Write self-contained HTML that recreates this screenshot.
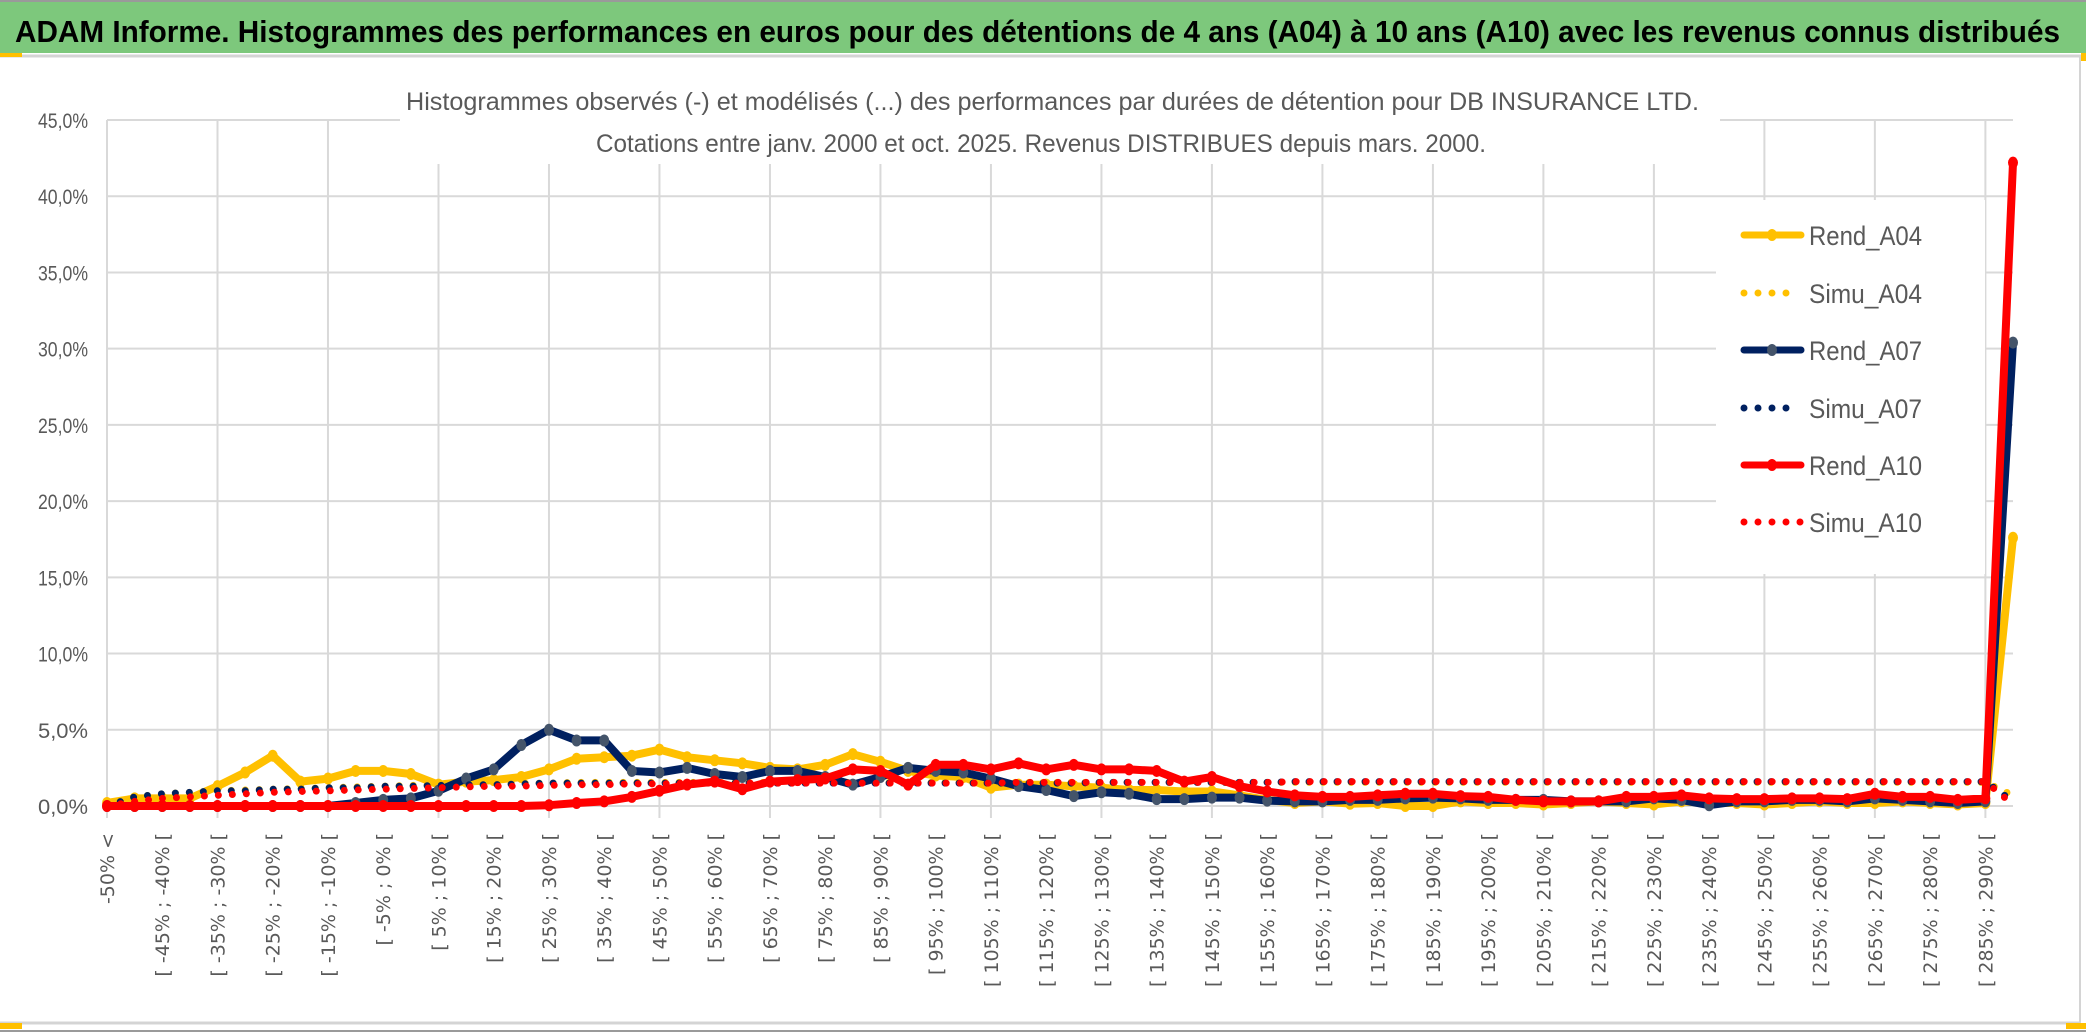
<!DOCTYPE html>
<html><head><meta charset="utf-8"><style>
html,body{margin:0;padding:0;background:#fff;}
svg{display:block;font-family:"Liberation Sans",sans-serif;}
</style></head><body>
<svg id="chart" width="2086" height="1033" viewBox="0 0 2086 1033" xmlns="http://www.w3.org/2000/svg">
<rect x="0" y="0" width="2086" height="1033" fill="#fff"/>
<rect x="0" y="2" width="2086" height="51" fill="#7dc87c"/>
<line x1="0" y1="1" x2="2086" y2="1" stroke="#9a9a9a" stroke-width="2"/>
<line x1="0" y1="56" x2="2086" y2="56" stroke="#d4d4d4" stroke-width="3"/>
<line x1="2080" y1="56" x2="2080" y2="1024" stroke="#d4d4d4" stroke-width="2"/>
<line x1="0" y1="1023" x2="2080" y2="1023" stroke="#d4d4d4" stroke-width="3"/>
<line x1="0" y1="1031" x2="2086" y2="1031" stroke="#9a9a9a" stroke-width="2"/>
<rect x="0" y="53" width="22" height="4" fill="#ffc000"/>
<rect x="0" y="1023" width="22" height="6" fill="#ffc000"/>
<rect x="2081" y="53" width="5" height="8" fill="#ffc000"/>
<rect x="2066" y="1023" width="20" height="6" fill="#ffc000"/>
<text x="15" y="42" font-size="31" font-weight="bold" fill="#000" textLength="2045" lengthAdjust="spacingAndGlyphs">ADAM Informe. Histogrammes des performances en euros pour des détentions de 4 ans (A04) à 10 ans (A10) avec les revenus connus distribués</text>
<g id="grid"></g>
<g id="yaxis"></g>
<g id="xaxis"></g>
<rect x="400" y="62" width="1320" height="102" fill="#fff"/>
<text x="406" y="110" font-size="25" fill="#595959" textLength="1293" lengthAdjust="spacingAndGlyphs">Histogrammes observés (-) et modélisés (...) des performances par durées de détention pour DB INSURANCE LTD.</text>
<text x="596" y="152" font-size="25" fill="#595959" textLength="890" lengthAdjust="spacingAndGlyphs">Cotations entre janv. 2000 et oct. 2025. Revenus DISTRIBUES depuis mars. 2000.</text>
<rect x="1716" y="200" width="269" height="374" fill="#fff"/>
<g id="series"></g>
<g id="legend"></g>
</svg>
<script>
const categoryCount = 70;
const yTicks = [0,5,10,15,20,25,30,35,40,45];
const yTickLabels = ["0,0%","5,0%","10,0%","15,0%","20,0%","25,0%","30,0%","35,0%","40,0%","45,0%"];
const seriesNames = ["Rend_A04","Simu_A04","Rend_A07","Simu_A07","Rend_A10","Simu_A10"];
const rendA04 = [0.2,0.5,0.5,0.5,1.3,2.2,3.3,1.6,1.8,2.3,2.3,2.1,1.4,1.6,1.7,1.9,2.4,3.1,3.2,3.3,3.7,3.2,3.0,2.8,2.5,2.4,2.7,3.4,2.9,2.3,2.0,1.9,1.2,1.4,1.4,1.3,1.2,1.05,1.05,0.95,0.95,0.7,0.4,0.2,0.3,0.15,0.2,0.0,0.0,0.3,0.2,0.2,0.1,0.2,0.3,0.2,0.1,0.3,0.2,0.2,0.1,0.2,0.3,0.2,0.2,0.3,0.2,0.1,0.2,17.6];
const rendA07 = [0,0,0,0,0,0,0,0,0,0.2,0.4,0.5,1.0,1.8,2.4,4.0,5.0,4.3,4.3,2.3,2.2,2.5,2.1,1.9,2.3,2.3,1.9,1.4,1.9,2.5,2.3,2.2,1.8,1.3,1.05,0.65,0.9,0.8,0.45,0.45,0.55,0.55,0.35,0.3,0.3,0.4,0.4,0.5,0.55,0.5,0.4,0.4,0.4,0.3,0.3,0.3,0.5,0.4,0.05,0.3,0.3,0.4,0.4,0.3,0.5,0.4,0.3,0.2,0.3,30.4];
const rendA10 = [0,0,0,0,0,0,0,0,0,0,0,0,0,0,0,0,0.05,0.2,0.3,0.6,1.0,1.4,1.6,1.1,1.6,1.7,1.8,2.4,2.3,1.4,2.7,2.7,2.4,2.8,2.4,2.7,2.4,2.4,2.3,1.6,1.9,1.3,0.95,0.7,0.6,0.6,0.7,0.8,0.8,0.65,0.6,0.4,0.3,0.3,0.3,0.6,0.6,0.7,0.5,0.45,0.45,0.5,0.5,0.45,0.8,0.6,0.6,0.4,0.5,42.2];
const simuA04 = [0,0.6,0.8,0.9,1.0,1.05,1.1,1.15,1.2,1.25,1.3,1.35,1.4,1.45,1.5,1.5,1.5,1.55,1.55,1.55,1.55,1.55,1.55,1.55,1.55,1.55,1.55,1.55,1.55,1.55,1.55,1.55,1.55,1.55,1.55,1.55,1.55,1.55,1.55,1.55,1.55,1.55,1.55,1.55,1.55,1.55,1.55,1.55,1.55,1.55,1.55,1.55,1.55,1.55,1.55,1.55,1.55,1.55,1.55,1.55,1.55,1.55,1.55,1.55,1.55,1.55,1.55,1.55,1.55,0.7];
const simuA07 = [0,0.6,0.8,0.9,1.0,1.0,1.1,1.1,1.2,1.2,1.3,1.3,1.35,1.4,1.4,1.45,1.5,1.5,1.5,1.5,1.5,1.5,1.5,1.5,1.5,1.5,1.5,1.5,1.5,1.5,1.5,1.5,1.5,1.5,1.5,1.5,1.55,1.55,1.55,1.55,1.55,1.55,1.55,1.6,1.6,1.6,1.6,1.6,1.6,1.6,1.6,1.6,1.6,1.6,1.6,1.6,1.6,1.6,1.6,1.6,1.6,1.6,1.6,1.6,1.6,1.6,1.6,1.6,1.6,0.3];
const simuA10 = [0,0.3,0.5,0.6,0.7,0.8,0.9,0.95,1.0,1.05,1.1,1.15,1.2,1.25,1.3,1.3,1.35,1.4,1.4,1.45,1.45,1.5,1.5,1.5,1.5,1.5,1.5,1.5,1.5,1.5,1.5,1.5,1.5,1.55,1.55,1.55,1.55,1.55,1.55,1.55,1.55,1.55,1.55,1.6,1.6,1.6,1.6,1.6,1.6,1.6,1.6,1.6,1.6,1.6,1.6,1.6,1.6,1.6,1.6,1.6,1.6,1.6,1.6,1.6,1.6,1.6,1.6,1.6,1.6,0.1];

const NS = "http://www.w3.org/2000/svg";
const X0 = 107, X1 = 2013, Y0 = 806, YTOP = 120, YMAX = 45;
function xPos(i){ return X0 + i*(X1-X0)/(categoryCount-1); }
function yPos(v){ return Y0 - v*(Y0-YTOP)/YMAX; }
function mk(tag, attrs, parent){ const e=document.createElementNS(NS,tag); for(const k in attrs) e.setAttribute(k,attrs[k]); parent.appendChild(e); return e; }
function catLabel(i){
  if(i===0) return "-50% <";
  const a = -50 + 5*(i-1), b = a + 5;
  return "[ " + a + "% ; " + b + "% [";
}
const grid = document.getElementById('grid');
const yaxis = document.getElementById('yaxis');
const xaxis = document.getElementById('xaxis');
yTicks.forEach((t,j)=>{
  const ln = mk('line',{x1:X0,x2:X1,y1:yPos(t),y2:yPos(t),stroke:'#d9d9d9','stroke-width':2},grid);
  
  
  const tx = mk('text',{x:88,y:yPos(t)+8,'text-anchor':'end','font-size':21,fill:'#595959',textLength:50,lengthAdjust:'spacingAndGlyphs'},yaxis);
  tx.textContent = yTickLabels[j];
  
  
});
for(let i=0;i<categoryCount;i+=4){
  const ln = mk('line',{x1:xPos(i),x2:xPos(i),y1:YTOP,y2:Y0+12,stroke:'#d9d9d9','stroke-width':2},grid);
  
  
}
for(let i=0;i<categoryCount-1;i+=2){
  const x = xPos(i)+7, y = 833;
  const tx = mk('text',{x:x,y:y,'text-anchor':'end','font-size':19,fill:'#595959','font-family':'DejaVu Sans, sans-serif',transform:'rotate(-90 '+x+' '+y+')'},xaxis);
  tx.textContent = catLabel(i);
  
  
}
const seriesData = [rendA04, simuA04, rendA07, simuA07, rendA10, simuA10];
const seriesColors = ['#ffc000','#ffc000','#002060','#002060','#ff0000','#ff0000'];
const markerColors = ['#ffc000',null,'#44546a',null,'#ff0000',null];
const sg = document.getElementById('series');
seriesData.forEach((vals,s)=>{
  const pts = vals.map((v,i)=>xPos(i).toFixed(1)+','+yPos(v).toFixed(1)).join(' ');
  const g = mk('g',{},sg);
  
  
  const isSim = markerColors[s]===null;
  const pl = mk('polyline',{points:pts,fill:'none',stroke:seriesColors[s],'stroke-width':isSim?7:8,'stroke-linejoin':'round','stroke-linecap':'round'},g);
  if(isSim){ pl.setAttribute('stroke-dasharray','0 14'); }
  
  
  if(!isSim){
    vals.forEach((v,i)=>{
      const c = mk('ellipse',{cx:xPos(i),cy:yPos(v),rx:5,ry:6,fill:markerColors[s]},g);
      
      
    });
  }
});
const lg = document.getElementById('legend');
const legendY = [235,293,350,408,465,522];
seriesNames.forEach((n,s)=>{
  const g = mk('g',{},lg);
  
  
  const y = legendY[s];
  const isSim = markerColors[s]===null;
  const ln = mk('line',{x1:1744,x2:1801,y1:y,y2:y,stroke:seriesColors[s],'stroke-width':7,'stroke-linecap':'round'},g);
  if(isSim){ ln.setAttribute('stroke-dasharray','0 14'); ln.setAttribute('x2', s===5?1801:1790); }
  else { mk('ellipse',{cx:1772,cy:y,rx:5,ry:6,fill:markerColors[s]},g); }
  const tx = mk('text',{x:1809,y:y+10,'font-size':27,fill:'#595959',textLength:113,lengthAdjust:'spacingAndGlyphs'},g);
  tx.textContent = n;
});
</script>
</body></html>
